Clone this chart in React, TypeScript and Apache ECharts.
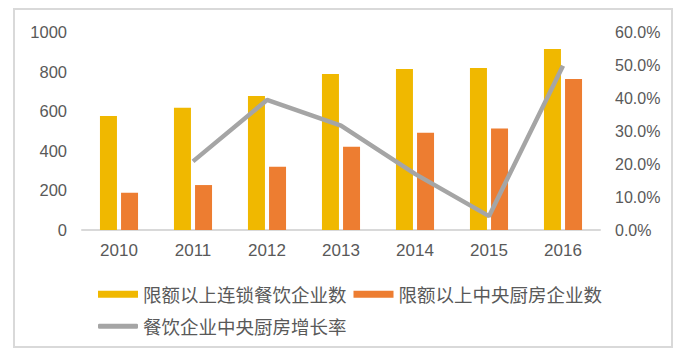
import React, { useEffect, useRef } from "react";
import * as echarts from "echarts";

const years = ["2010", "2011", "2012", "2013", "2014", "2015", "2016"];
const chainCounts = [576, 618, 677, 788, 813, 818, 914];
const kitchenCounts = [188, 227, 320, 421, 491, 512, 763];
const growthRate = [null, 20.8, 39.4, 31.6, 17.0, 4.2, 49.8];

const nameChain = "限额以上连锁餐饮企业数";
const nameKitchen = "限额以上中央厨房企业数";
const nameGrowth = "餐饮企业中央厨房增长率";

const FONT = "'Liberation Sans', 'Noto Sans CJK SC', sans-serif";
const CJK = "'Noto Sans CJK SC', sans-serif";
const TEXT = "#595959";

export default function App() {
  const ref = useRef<HTMLDivElement>(null);
  useEffect(() => {
    if (!ref.current) return;
    const chart = echarts.init(ref.current, undefined, { renderer: "svg" });
    chart.setOption({
      animation: false,
      backgroundColor: "#ffffff",
      graphic: [
        {
          type: "rect",
          shape: { x: 14, y: 9, width: 658, height: 338 },
          style: { fill: "none", stroke: "#D9D9D9", lineWidth: 2 },
          z: -1,
        },
      ],
      grid: { left: 82, right: 92, top: 32, bottom: 129 },
      legend: [
        {
          left: 93,
          top: 280,
          itemWidth: 40,
          itemHeight: 7,
          itemGap: 7,
          icon: "rect",
          textStyle: { fontSize: 18.5, color: TEXT, fontFamily: CJK },
          data: [nameChain, nameKitchen],
        },
        {
          left: 93,
          top: 312,
          itemWidth: 40,
          itemHeight: 5,
          icon: "roundRect",
          textStyle: { fontSize: 18.5, color: TEXT, fontFamily: CJK },
          data: [nameGrowth],
        },
      ],
      xAxis: {
        type: "category",
        data: years,
        axisLine: { lineStyle: { color: "#D9D9D9", width: 2 } },
        axisTick: { show: false },
        axisLabel: { color: TEXT, fontSize: 17, fontFamily: FONT, margin: 12 },
      },
      yAxis: [
        {
          type: "value",
          min: 0,
          max: 1000,
          interval: 200,
          splitLine: { show: false },
          axisLine: { show: false },
          axisTick: { show: false },
          axisLabel: {
            color: TEXT,
            fontSize: 16.5,
            fontFamily: FONT,
            margin: 15,
            formatter: (v: number) => String(v),
          },
        },
        {
          type: "value",
          min: 0,
          max: 60,
          interval: 10,
          splitLine: { show: false },
          axisLine: { show: false },
          axisTick: { show: false },
          axisLabel: {
            color: TEXT,
            fontSize: 16,
            fontFamily: FONT,
            margin: 15,
            formatter: (v: number) => v.toFixed(1) + "%",
          },
        },
      ],
      series: [
        {
          name: nameChain,
          type: "bar",
          data: chainCounts,
          barWidth: 17,
          barGap: "24%",
          itemStyle: { color: "#F0B800" },
        },
        {
          name: nameKitchen,
          type: "bar",
          data: kitchenCounts,
          barWidth: 17,
          barGap: "24%",
          itemStyle: { color: "#ED7D31" },
        },
        {
          name: nameGrowth,
          type: "line",
          yAxisIndex: 1,
          data: growthRate,
          symbol: "none",
          lineStyle: { color: "#A5A5A5", width: 4.5 },
          itemStyle: { color: "#A5A5A5" },
          z: 5,
        },
      ],
    });
    return () => chart.dispose();
  }, []);
  return (
    <div
      ref={ref}
      style={{ position: "fixed", left: 0, top: 0, width: 692, height: 359 }}
    />
  );
}
